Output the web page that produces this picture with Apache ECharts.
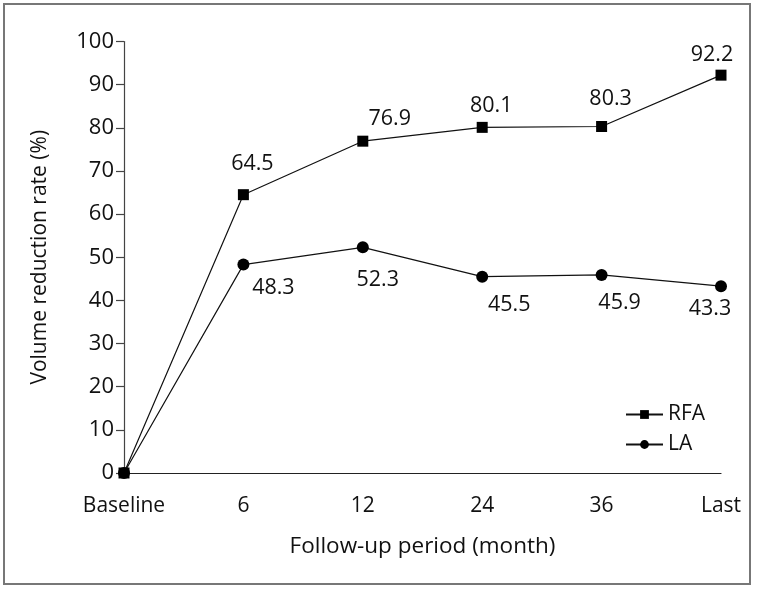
<!DOCTYPE html>
<html>
<head>
<meta charset="utf-8">
<script src="https://cdn.jsdelivr.net/npm/echarts@6/dist/echarts.min.js"></script>
<style>
  html, body { margin: 0; padding: 0; background: #fff; }
  #chart { width: 761px; height: 590px; }
</style>
</head>
<body>
<div id="chart"></div>
<script>
const categories = ['Baseline', '6', '12', '24', '36', 'Last'];
const rfaValues = [0, 64.5, 76.9, 80.1, 80.3, 92.2];
const laValues = [0, 48.3, 52.3, 45.5, 45.9, 43.3];
const yTicks = { min: 0, max: 100, interval: 10 };

// label offsets (style only) relative to the marker centre
const rfaLabelOffsets = [null, [9, -31], [27, -22], [9, -21], [9, -28], [-9, -20]];
const laLabelOffsets = [null, [30, 23], [15, 33], [27, 28], [18, 28], [-11, 23]];

const FONT = 'Open Sans';
const chart = echarts.init(document.getElementById('chart'), null, { renderer: 'canvas' });

function buildData(values, offsets) {
  return values.map((v, i) => ({
    value: v,
    label: offsets[i]
      ? { show: true, position: 'inside', offset: offsets[i] }
      : { show: false }
  }));
}

const labelStyle = {
  color: '#111',
  fontFamily: FONT,
  fontSize: 21.5,
  formatter: p => p.value.toFixed(1)
};

chart.setOption({
  animation: false,
  backgroundColor: '#fff',
  graphic: [{
    type: 'rect',
    z: -10,
    silent: true,
    shape: { x: 4, y: 4, width: 746, height: 580 },
    style: { fill: 'none', stroke: '#777', lineWidth: 2 }
  }],
  grid: { left: 124, right: 40, top: 41.5, bottom: 117, containLabel: false },
  legend: {
    orient: 'vertical',
    left: 620,
    top: 399,
    itemWidth: 37,
    itemHeight: 11,
    itemGap: 9,
    data: ['RFA', 'LA'],
    textStyle: { color: '#111', fontFamily: FONT, fontSize: 21 }
  },
  xAxis: {
    type: 'category',
    data: categories,
    boundaryGap: false,
    name: 'Follow-up period (month)',
    nameLocation: 'middle',
    nameGap: 62,
    nameTextStyle: { color: '#111', fontFamily: FONT, fontSize: 22.5 },
    axisLine: { lineStyle: { color: '#222', width: 1.2 } },
    axisTick: { show: false },
    axisLabel: { color: '#111', fontFamily: FONT, fontSize: 21, margin: 23 },
    splitLine: { show: false }
  },
  yAxis: {
    type: 'value',
    min: yTicks.min,
    max: yTicks.max,
    interval: yTicks.interval,
    name: 'Volume reduction rate (%)',
    nameLocation: 'middle',
    nameRotate: 90,
    nameGap: 73,
    nameTextStyle: { color: '#111', fontFamily: FONT, fontSize: 21 },
    axisLine: { show: true, lineStyle: { color: '#444', width: 1.2 } },
    axisTick: { show: true, length: 8, lineStyle: { color: '#444', width: 1.2 } },
    axisLabel: { color: '#111', fontFamily: FONT, fontSize: 22, margin: 10 },
    splitLine: { show: false }
  },
  series: [
    {
      name: 'RFA',
      type: 'line',
      z: 3,
      data: buildData(rfaValues, rfaLabelOffsets),
      symbol: 'rect',
      symbolSize: 11,
      itemStyle: { color: '#000' },
      lineStyle: { color: '#111', width: 1.2 },
      label: labelStyle
    },
    {
      name: 'LA',
      type: 'line',
      z: 2,
      data: buildData(laValues, laLabelOffsets),
      symbol: 'circle',
      symbolSize: 12,
      itemStyle: { color: '#000' },
      lineStyle: { color: '#111', width: 1.2 },
      label: labelStyle
    }
  ]
});
</script>
</body>
</html>
